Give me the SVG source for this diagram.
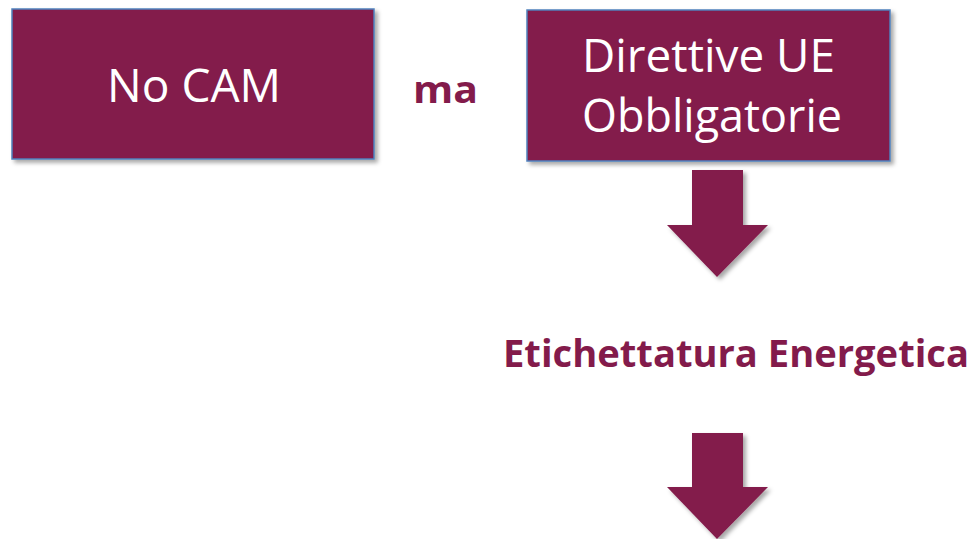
<svg xmlns="http://www.w3.org/2000/svg" width="980" height="539" viewBox="0 0 980 539">
<defs>
<filter id="sh" x="-10%" y="-10%" width="130%" height="130%">
<feDropShadow dx="3" dy="3" stdDeviation="2" flood-color="#000" flood-opacity="0.35"/>
</filter>
</defs>
<style>
.box{fill:#831B4B;stroke:#4F81BD;stroke-width:1.5;filter:url(#sh)}
.arrow{fill:#831B4B;filter:url(#sh)}
.wt{fill:#fff;font-family:"Open Sans","Liberation Sans",sans-serif;font-size:46px}
.bt{fill:#831B4B;font-family:"Open Sans","Liberation Sans",sans-serif;font-weight:bold}
</style>
<rect width="980" height="539" fill="#fff"/>
<g id="node-nocam">
<rect class="box" x="12" y="9" width="362" height="150"/>
<text class="wt" x="107" y="102" textLength="174" lengthAdjust="spacingAndGlyphs">No CAM</text>
</g>
<g id="label-ma">
<text class="bt" x="413" y="103" font-size="38" textLength="65" lengthAdjust="spacingAndGlyphs">ma</text>
</g>
<g id="node-direttive">
<rect class="box" x="527" y="10" width="363" height="151"/>
<text class="wt" x="582" y="72" textLength="253" lengthAdjust="spacingAndGlyphs">Direttive UE</text>
<text class="wt" x="582" y="132" textLength="260" lengthAdjust="spacingAndGlyphs">Obbligatorie</text>
</g>
<g id="node-etichettatura">
<text class="bt" x="503" y="367" font-size="37" textLength="466" lengthAdjust="spacingAndGlyphs">Etichettatura Energetica</text>
</g>
<g id="connectors">
<polygon class="arrow" points="692,170 743,170 743,225 768,225 717,277 667,225 692,225"/>
<polygon class="arrow" points="692,433 743,433 743,487 768,487 717,539 667,487 692,487"/>
</g>
</svg>
